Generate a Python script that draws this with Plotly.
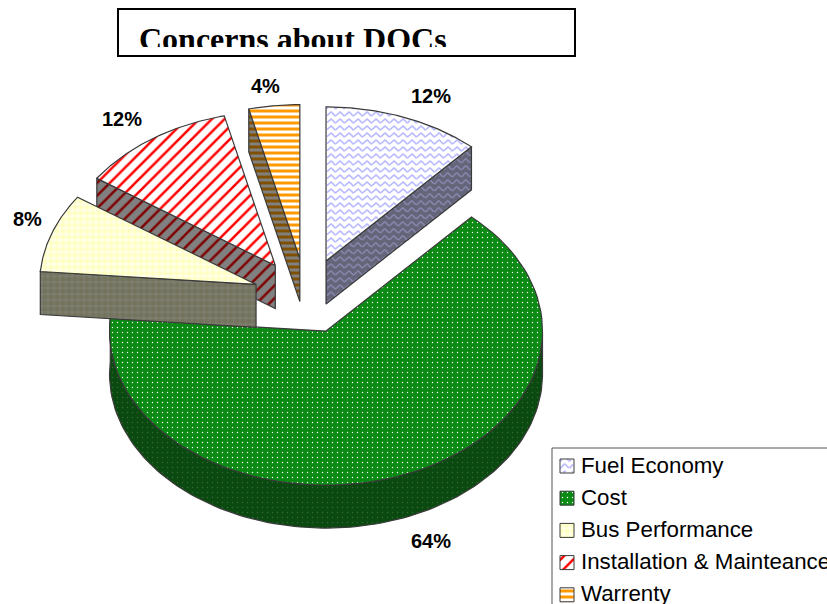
import math
import numpy as np
import plotly.graph_objects as go

# Survey shares, in percent
categories = ["Fuel Economy", "Cost", "Bus Performance", "Installation & Mainteance", "Warrenty"]
shares = [12, 64, 8, 12, 4]
chart_title = "Concerns about DOCs"

# Pie geometry on a canvas measured in pixels
WIDTH, HEIGHT = 827, 604
CENTER = (306.5, 296.0)
RX, RY = 216.5, 154.0
DEPTH = 43.0
EXPLODE = 0.245
# Foreshortening of the slice angles on the tilted disc
ANGLE_SQUEEZE = 0.95
ANGLE_TURN = 1.0

styles = {
    "Fuel Economy": dict(bg="#ffffff", fg="#bcbcff", shape="wave", wall_bg="#65657a", wall_fg="#8484a8"),
    "Cost": dict(bg="#0b8a14", fg="#ffffff", shape=".", size=5, sol=0.06, wall_bg="#0a4a10", wall_fg="#3a683d"),
    "Bus Performance": dict(bg="#ffffec", fg="#ffffc4", shape=".", size=6, sol=0.6, wall_bg="#7e7e70", wall_fg="#74745e"),
    "Installation & Mainteance": dict(bg="#ffffff", fg="#ff0000", shape="/", size=9, sol=0.28, wall_bg="#808080", wall_fg="#800000"),
    "Warrenty": dict(bg="#ffffff", fg="#ff9900", shape="-", size=6, sol=0.5, wall_bg="#808080", wall_fg="#805000"),
}
label_positions = {
    "Fuel Economy": (431, 96),
    "Cost": (431, 541),
    "Bus Performance": (27, 219),
    "Installation & Mainteance": (122, 119),
    "Warrenty": (265, 86),
}
EDGE = "#3a3a3a"

fig = go.Figure()


def inside(px, py, poly_x, poly_y):
    """Even-odd point-in-polygon test for arrays of points."""
    result = np.zeros(px.shape, dtype=bool)
    n = len(poly_x)
    for i in range(n):
        x1, y1, x2, y2 = poly_x[i], poly_y[i], poly_x[(i + 1) % n], poly_y[(i + 1) % n]
        if y1 == y2:
            continue
        crosses = (y1 > py) != (y2 > py)
        xcross = x1 + (py - y1) * (x2 - x1) / (y2 - y1)
        result ^= crosses & (px < xcross)
    return result


def wave_lines(poly_x, poly_y, period=9.0, spacing=7.0, amp=1.9):
    """Polyline of wavy rows restricted to a polygon."""
    xs, ys = [], []
    y0 = min(poly_y)
    while y0 < max(poly_y) + spacing:
        x = np.arange(math.floor(min(poly_x)), math.ceil(max(poly_x)) + 1, 1.0)
        y = y0 + amp * np.sin(2 * np.pi * x / period)
        keep = inside(x, y, poly_x, poly_y)
        xs += [float(a) if k else None for a, k in zip(x, keep)] + [None]
        ys += [float(b) if k else None for b, k in zip(y, keep)] + [None]
        y0 += spacing
    return xs, ys


def patch(poly_x, poly_y, bg, fg, shape, size=8, sol=0.3, outline=True, width=1.2):
    """Closed polygon with a pattern fill and a thin outline."""
    poly_x, poly_y = list(poly_x), list(poly_y)
    closed_x, closed_y = poly_x + poly_x[:1], poly_y + poly_y[:1]
    if shape == "wave":
        fig.add_trace(go.Scatter(x=closed_x, y=closed_y, mode="lines", fill="toself",
                                 fillcolor=bg, line=dict(width=0), hoverinfo="skip"))
        wx, wy = wave_lines(poly_x, poly_y)
        fig.add_trace(go.Scatter(x=wx, y=wy, mode="lines", line=dict(color=fg, width=1.7),
                                 connectgaps=False, hoverinfo="skip"))
    else:
        fig.add_trace(go.Scatter(x=closed_x, y=closed_y, mode="lines", fill="toself",
                                 fillcolor=bg, line=dict(width=0), hoverinfo="skip",
                                 fillpattern=dict(shape=shape, size=size, solidity=sol,
                                                  fgcolor=fg, bgcolor=bg, fillmode="replace")))
    if outline:
        fig.add_trace(go.Scatter(x=closed_x, y=closed_y, mode="lines",
                                 line=dict(color=EDGE, width=width), hoverinfo="skip"))


# Slice angles run clockwise from twelve o'clock
total = sum(shares)
angles = {}
running = 0.0
for name, share in zip(categories, shares):
    start = running
    running += 360.0 * share / total
    angles[name] = (start, running)


def apex(name):
    mid = math.radians(sum(angles[name]) / 2)
    return (CENTER[0] + EXPLODE * RX * math.sin(mid), CENTER[1] - EXPLODE * RY * math.cos(mid))


def rim(name, deg):
    ax, ay = apex(name)
    t = np.radians(deg)
    t = np.arctan2(ANGLE_SQUEEZE * np.sin(t), np.cos(t)) + math.radians(ANGLE_TURN) * np.sin(t) ** 2
    return ax + RX * np.sin(t), ay - RY * np.cos(t)


def top_face(name):
    a0, a1 = angles[name]
    ax, ay = apex(name)
    x, y = rim(name, np.linspace(a0, a1, 90))
    return [ax] + x.tolist(), [ay] + y.tolist()


def edge_wall(name, deg):
    ax, ay = apex(name)
    rx, ry = rim(name, deg)
    return [ax, float(rx), float(rx), ax], [ay, float(ry), float(ry) + DEPTH, ay + DEPTH]


def draw_slice(name, wall):
    st = styles[name]
    kw = dict(size=st.get("size", 8), sol=st.get("sol", 0.3))
    patch(wall[0], wall[1], st["wall_bg"], st["wall_fg"], st["shape"], **kw)
    fx, fy = top_face(name)
    patch(fx, fy, st["bg"], st["fg"], st["shape"], **kw)


# Large slice first: its wall is the curved front rim
cost = "Cost"
x_arc, y_arc = rim(cost, np.linspace(90, angles[cost][1], 120))
cost_wall = (x_arc.tolist() + x_arc[::-1].tolist(), y_arc.tolist() + (y_arc[::-1] + DEPTH).tolist())
draw_slice(cost, cost_wall)

# The exploded slices stack back to front
draw_slice("Fuel Economy", edge_wall("Fuel Economy", angles["Fuel Economy"][1]))
draw_slice("Warrenty", edge_wall("Warrenty", angles["Warrenty"][0]))
draw_slice("Installation & Mainteance", edge_wall("Installation & Mainteance", angles["Installation & Mainteance"][0]))
draw_slice("Bus Performance", edge_wall("Bus Performance", angles["Bus Performance"][0]))

# Percentage labels
for name, share in zip(categories, shares):
    lx, ly = label_positions[name]
    fig.add_annotation(x=lx, y=ly, text=f"<b>{share}%</b>", showarrow=False,
                       font=dict(family="Liberation Sans", size=20, color="#000000"))

# Legend panel, running off the page edge
LEGEND_X, LEGEND_Y = 552, 448
ROW0, ROW_STEP = 466, 32.2
for i, name in enumerate(categories):
    st = styles[name]
    yc = ROW0 + i * ROW_STEP
    sx = [560, 574, 574, 560]
    sy = [yc - 7, yc - 7, yc + 7, yc + 7]
    patch(sx, sy, st["bg"], st["fg"], st["shape"], size=st.get("size", 8), sol=st.get("sol", 0.3), width=1.0)
    fig.add_annotation(x=579, y=yc - 1, text=name, showarrow=False, xanchor="left",
                       font=dict(family="Liberation Sans", size=22.3, color="#000000"))

# Title text sits in the plot layer so the frame mask can trim its lower edge
fig.add_trace(go.Scatter(x=[139], y=[42], mode="text", text=[f"<b>{chart_title}</b>"],
                         textposition="middle right", cliponaxis=False, hoverinfo="skip",
                         textfont=dict(family="Liberation Serif", size=32, color="#000000")))

fig.update_layout(
    width=WIDTH, height=HEIGHT, margin=dict(l=0, r=0, t=0, b=0),
    paper_bgcolor="#ffffff", plot_bgcolor="#ffffff", showlegend=False,
    xaxis=dict(range=[0, WIDTH], visible=False, fixedrange=True),
    yaxis=dict(range=[HEIGHT, 0], visible=False, fixedrange=True),
    shapes=[
        dict(type="rect", x0=122, x1=572, y0=47, y1=54, fillcolor="#ffffff", line=dict(width=0), layer="above"),
        dict(type="rect", x0=118, x1=575, y0=9, y1=56, line=dict(color="#000000", width=2), layer="above"),
        dict(type="rect", x0=LEGEND_X, x1=WIDTH + 20, y0=LEGEND_Y, y1=HEIGHT + 20,
             line=dict(color="#555555", width=1), layer="below", fillcolor="#ffffff"),
    ],
)

fig.write_html("out.html", config=dict(displayModeBar=False))
